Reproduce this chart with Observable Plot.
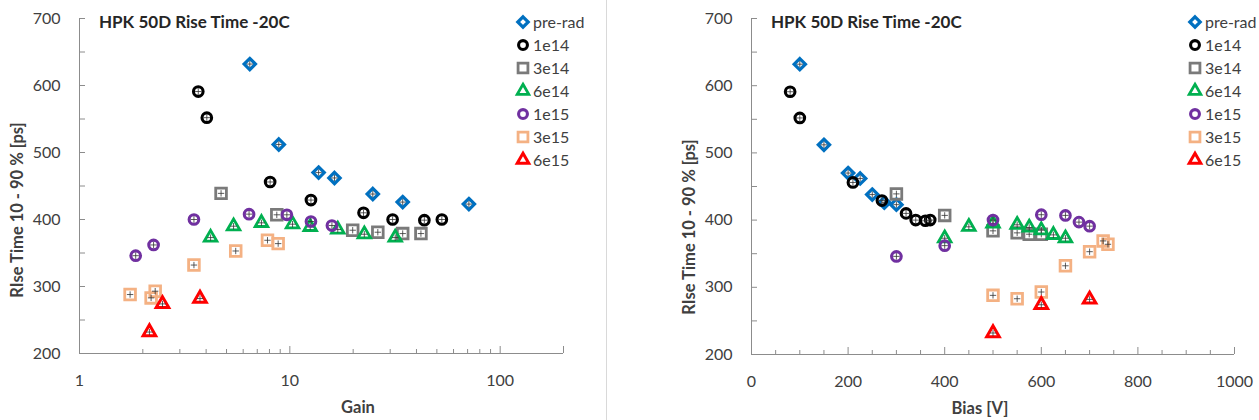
<!DOCTYPE html>
<html>
<head>
<meta charset="utf-8">
<script src="https://cdn.jsdelivr.net/npm/d3@7"></script>
<script src="https://cdn.jsdelivr.net/npm/@observablehq/plot@0.6"></script>
<style>
  html, body { margin: 0; padding: 0; background: #fff; }
  #wrap { position: relative; width: 1259px; height: 420px; overflow: hidden; font-family: Lato, "Open Sans", sans-serif; color: #404040; }
  .panel { position: absolute; top: 0; }
  .title { position: absolute; font-weight: bold; font-size: 17px; color: #262626; white-space: nowrap; line-height: 1; }
  .xlab { position: absolute; font-weight: bold; font-size: 16.5px; color: #404040; white-space: nowrap; transform: translate(-50%, -50%); line-height: 1; }
  .ylab { position: absolute; font-weight: bold; font-size: 16.5px; color: #404040; white-space: nowrap; transform: translate(-50%, -50%) rotate(-90deg); line-height: 1; }
  .lrow { position: absolute; display: flex; align-items: center; font-size: 16px; color: #404040; white-space: nowrap; line-height: 1; }
  .sep { position: absolute; left: 606px; top: 0; width: 1px; height: 420px; background: #d9d9d9; }
</style>
</head>
<body>
<div id="wrap"></div>
<script>
// ---- data ----
const seriesNames  = ["pre-rad", "1e14", "3e14", "6e14", "1e15", "3e15", "6e15"];
const seriesColors = ["#0070C0", "#000000", "#7A7A7A", "#00B050", "#7030A0", "#F4B183", "#FF0000"];

// gain of each point, per series (same order as seriesNames)
const gainValues = [
  [6.45, 8.86, 13.7, 16.3, 24.8, 34.4, 71],
  [3.67, 4.03, 8.06, 12.6, 22.4, 30.8, 43.6, 52.8],
  [4.71, 8.67, 19.9, 26.2, 34.4, 42],
  [4.2, 5.4, 7.33, 10.3, 12.5, 16.9, 22.6, 31.7],
  [1.85, 2.25, 3.5, 6.4, 9.68, 12.6, 15.85],
  [1.74, 2.19, 2.29, 3.5, 5.53, 7.83, 8.8],
  [2.15, 2.48, 3.74]
];
// bias voltage [V] of each point, per series
const biasValues = [
  [100, 150, 200, 225, 250, 275, 300],
  [80, 100, 210, 270, 320, 340, 360, 370],
  [300, 400, 500, 550, 575, 600],
  [400, 450, 500, 550, 575, 600, 625, 650],
  [300, 400, 500, 600, 650, 678, 700],
  [500, 550, 600, 650, 700, 728, 738],
  [500, 600, 700]
];
// rise time 10-90 % [ps] of each point, per series
const riseValues = [
  [632, 512, 470, 462, 438, 426, 423],
  [591, 552, 456, 429, 410, 400, 399, 400],
  [439, 407, 384, 381, 379, 379],
  [373, 390, 395, 393, 389, 385, 378, 373],
  [346, 362, 400, 408, 407, 397, 391],
  [288, 283, 293, 332, 353, 369, 364],
  [232, 274, 282]
];

const gainTicks = [1, 10, 100];
const biasTicks = [0, 200, 400, 600, 800, 1000];
const riseTicks = [200, 300, 400, 500, 600, 700];
const chartTitle = "HPK 50D Rise Time -20C";
const yTitle = "RIse Time 10 - 90 % [ps]";

// ---- build rows ----
const rows = seriesNames.flatMap((s, i) => riseValues[i].map((r, j) => ({
  series: s, gain: gainValues[i][j], bias: biasValues[i][j], rise: r
})));

const markerStyle = {
  "pre-rad": { symbol: "diamond2", r: 5.1, strokeWidth: 3.2 },
  "1e14":    { symbol: "circle",   r: 4.8, strokeWidth: 3.1 },
  "3e14":    { symbol: "square2",  r: 6.8, strokeWidth: 2.8 },
  "6e14":    { symbol: "triangle2",r: 6.0, strokeWidth: 2.8 },
  "1e15":    { symbol: "circle",   r: 4.8, strokeWidth: 3.1 },
  "3e15":    { symbol: "square2",  r: 6.8, strokeWidth: 2.8 },
  "6e15":    { symbol: "triangle2",r: 6.0, strokeWidth: 3.0 }
};

const axisGray = "#8C8C8C";
const H = 420;

function seriesDots(xKey) {
  return seriesNames.flatMap((s, i) => {
    const data = rows.filter(d => d.series === s);
    return [
      Plot.dot(data, {
        x: xKey, y: "rise",
        symbol: markerStyle[s].symbol, r: markerStyle[s].r,
        stroke: seriesColors[i], strokeWidth: markerStyle[s].strokeWidth, fill: "none"
      }),
      // small error-bar crosses drawn inside each marker
      Plot.dot(data, {
        x: xKey, y: "rise", symbol: "plus", r: 2.2,
        stroke: "#333", strokeWidth: 0.8, fill: "none"
      })
    ];
  });
}

function makeChart(cfg) {
  const plotW = cfg.width - cfg.marginLeft - cfg.marginRight;
  const plotH = H - cfg.marginTop - cfg.marginBottom;
  return Plot.plot({
    width: cfg.width, height: H,
    marginLeft: cfg.marginLeft, marginRight: cfg.marginRight,
    marginTop: cfg.marginTop, marginBottom: cfg.marginBottom,
    style: { fontFamily: "Lato, 'Open Sans', sans-serif", fontSize: "16px", color: "#404040", background: "transparent", overflow: "visible" },
    x: cfg.x,
    y: { domain: [200, 700], label: null },
    marks: [
      Plot.ruleY(d3.range(200, 701, 50), { insetRight: plotW - 6, stroke: axisGray }),
      Plot.ruleX(cfg.minorX, { insetTop: plotH - 4, stroke: axisGray }),
      Plot.ruleX(cfg.majorX, { insetTop: plotH - 7, stroke: axisGray }),
      Plot.ruleX([cfg.x.domain[0]], { stroke: axisGray }),
      Plot.ruleY([200], { stroke: axisGray }),
      Plot.axisY({ ticks: riseTicks, tickSize: 0, tickPadding: 19, label: null, fontSize: 16 }),
      Plot.axisX({ ticks: cfg.labelTicks, tickSize: 0, tickPadding: 21, label: null, fontSize: 16, tickFormat: d => String(d) }),
      ...seriesDots(cfg.xKey)
    ]
  });
}

const wrap = document.getElementById("wrap");

function addPanel(left, chart) {
  const d = document.createElement("div");
  d.className = "panel";
  d.style.left = left + "px";
  d.appendChild(chart);
  wrap.appendChild(d);
}

const leftChart = makeChart({
  width: 620, marginLeft: 79, marginRight: 57, marginTop: 18, marginBottom: 67,
  xKey: "gain",
  x: { type: "log", domain: [1, 200], label: null },
  labelTicks: gainTicks,
  majorX: [10, 100, 200],
  minorX: [2, 3, 4, 5, 6, 7, 8, 9, 20, 30, 40, 50, 60, 70, 80, 90]
});
addPanel(0, leftChart);

const rightChart = makeChart({
  width: 639, marginLeft: 131, marginRight: 25, marginTop: 18, marginBottom: 66,
  xKey: "bias",
  x: { type: "linear", domain: [0, 1000], label: null },
  labelTicks: biasTicks,
  majorX: d3.range(200, 1001, 200),
  minorX: d3.range(50, 1000, 50).filter(v => v % 200 !== 0)
});
addPanel(620, rightChart);

const sep = document.createElement("div");
sep.className = "sep";
wrap.appendChild(sep);

function addText(cls, text, left, top) {
  const d = document.createElement("div");
  d.className = cls;
  d.textContent = text;
  d.style.left = left + "px";
  d.style.top = top + "px";
  wrap.appendChild(d);
  return d;
}

addText("title", chartTitle, 99, 13);
addText("title", chartTitle, 771, 13);
addText("xlab", "Gain", 358, 407);
addText("xlab", "Bias [V]", 980, 408);
addText("ylab", yTitle, 17, 210);
addText("ylab", yTitle, 689, 227);

function addLegend(markerX) {
  seriesNames.forEach((s, i) => {
    const row = document.createElement("div");
    row.className = "lrow";
    row.style.left = (markerX - 7) + "px";
    row.style.top = (22 + i * 23 - 8) + "px";
    row.style.height = "16px";
    const st = markerStyle[s];
    const svg = d3.create("svg").attr("width", 14).attr("height", 16).style("overflow", "visible");
    const sym = { "diamond2": d3.symbolDiamond2, "circle": d3.symbolCircle, "square2": d3.symbolSquare2, "triangle2": d3.symbolTriangle2 }[st.symbol];
    svg.append("path")
      .attr("transform", "translate(7,8)")
      .attr("d", d3.symbol(sym, Math.PI * st.r * st.r * 0.85)())
      .attr("fill", "none").attr("stroke", seriesColors[i]).attr("stroke-width", st.strokeWidth);
    row.appendChild(svg.node());
    const t = document.createElement("span");
    t.textContent = s;
    t.style.marginLeft = "3px";
    row.appendChild(t);
    wrap.appendChild(row);
  });
}
addLegend(523);
addLegend(1195);
</script>
</body>
</html>
